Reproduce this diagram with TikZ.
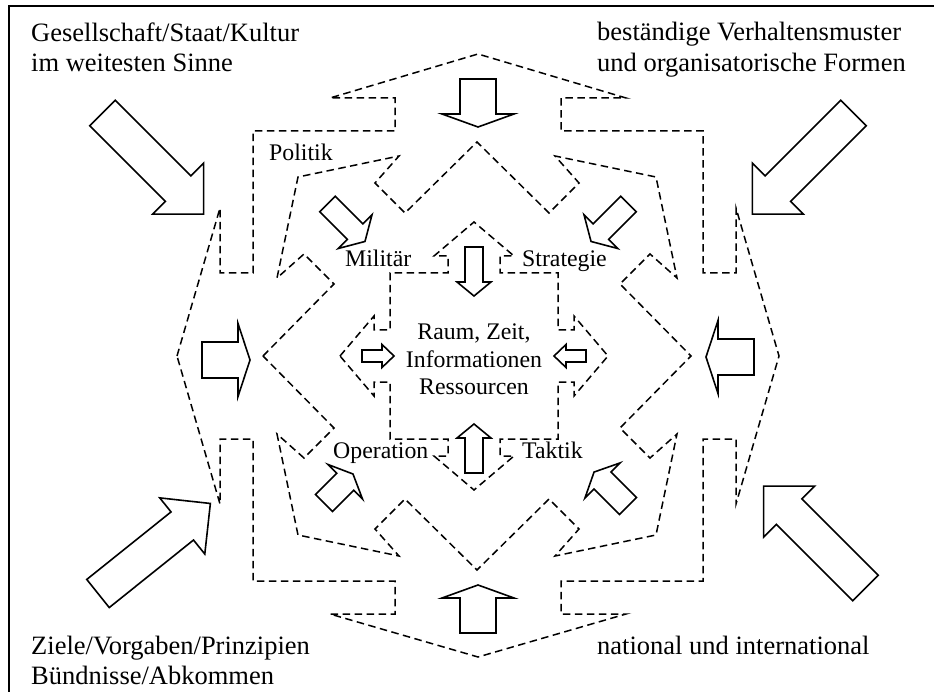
\documentclass[tikz,border=0pt]{standalone}
\usepackage{fontspec}
\setmainfont{Liberation Serif}
% block arrow: tail x, tail y, angle, stem length, stem half width, head length, head half width
\newcommand\blkarrow[7]{%
  \draw[blockarrow,shift={(#1,#2)},rotate=#3]
    (0,-#5) -- (#4,-#5) -- (#4,-#7) -- ({#4+#6},0) -- (#4,#7) -- (#4,#5) -- (0,#5) -- cycle;}
\begin{document}
\begin{tikzpicture}[x=1pt,y=-1pt,
  dashline/.style={dash pattern=on 7.5pt off 4.5pt, line width=1.5pt, line join=miter},
  blockarrow/.style={draw, line width=1.6pt, fill=white, line join=miter},
  framestyle/.style={line width=2pt},
  cornertext/.style={anchor=base west, inner sep=0pt, font=\fontsize{26.5}{30}\selectfont},
  labeltext/.style={anchor=base west, inner sep=0pt, font=\fontsize{23.8}{27.5}\selectfont},
  centertext/.style={anchor=base, inner sep=0pt, font=\fontsize{23.8}{27.5}\selectfont},
]
\useasboundingbox (0,0) rectangle (934,692);
\fill[white] (0,0) rectangle (934,692);

% frame
\draw[framestyle] (9,692) -- (9,6) -- (934,6);

% outer star
\begin{scope}[shift={(478,356)}]
\draw[dashline] (-301,0) -- (-258,-148) -- (-258,-83) -- (-225,-83) -- (-225,-225)
  -- (-83,-225) -- (-83,-258) -- (-148,-258) -- (0,-302) -- (148,-258) -- (83,-258)
  -- (83,-225) -- (225,-225) -- (225,-83) -- (258,-83) -- (258,-148) -- (301,0)
  -- (258,148) -- (258,83) -- (225,83) -- (225,225) -- (83,225) -- (83,258)
  -- (148,258) -- (0,301) -- (-148,258) -- (-83,258) -- (-83,225) -- (-225,225)
  -- (-225,83) -- (-258,83) -- (-258,148) -- cycle;
\end{scope}

% middle star
\begin{scope}[shift={(477,356)}]
\draw[dashline] (-214,0) -- (-143,-72) -- (-173,-102) -- (-200,-78) -- (-179,-179)
  -- (-78,-200) -- (-102,-173) -- (-72,-143) -- (0,-214) -- (72,-143) -- (102,-173)
  -- (78,-200) -- (179,-179) -- (200,-78) -- (173,-102) -- (143,-72) -- (214,0)
  -- (143,72) -- (173,102) -- (200,78) -- (179,179) -- (78,200) -- (102,173)
  -- (72,143) -- (0,214) -- (-72,143) -- (-102,173) -- (-78,200) -- (-179,179)
  -- (-200,78) -- (-173,102) -- (-143,72) -- cycle;
\end{scope}

% inner star
\begin{scope}[shift={(474,356)}]
\draw[dashline] (-134,0) -- (-100,-40) -- (-100,-26) -- (-84,-26) -- (-84,-83)
  -- (-26,-83) -- (-26,-100) -- (-40,-100) -- (0,-134) -- (40,-100) -- (26,-100)
  -- (26,-83) -- (84,-83) -- (84,-26) -- (100,-26) -- (100,-40) -- (134,0)
  -- (100,40) -- (100,26) -- (84,26) -- (84,83) -- (26,83) -- (26,100)
  -- (40,100) -- (0,134) -- (-40,100) -- (-26,100) -- (-26,83) -- (-84,83)
  -- (-84,26) -- (-100,26) -- (-100,40) -- cycle;
\end{scope}

% large arrows from the corners
\blkarrow{102.5}{113}{-45}{107}{18}{36}{36}
\blkarrow{853.5}{113}{-135}{107}{18}{36}{36}
\blkarrow{98}{593.5}{38.7}{108}{18}{36}{36}
\blkarrow{865.5}{588}{135}{108}{18}{36}{36}

% arrows of the outer ring
\blkarrow{478}{79}{-90}{35}{18}{13}{36}
\blkarrow{478}{633}{90}{35}{18}{13}{36}
\blkarrow{202}{360}{0}{36}{18}{12}{36.5}
\blkarrow{754}{357}{180}{36}{18}{12}{36.5}

% arrows of the middle ring
\blkarrow{327.5}{204}{-45}{39}{11}{14}{24}
\blkarrow{628.5}{204}{-135}{39}{11}{14}{24}
\blkarrow{324}{503}{45}{30}{12}{11}{24.5}
\blkarrow{628}{506}{135}{36}{12}{12}{25}

% arrows of the inner ring
\blkarrow{362}{356}{0}{20}{6}{12}{11.5}
\blkarrow{586}{356}{180}{20}{6}{12}{11.5}
\blkarrow{474}{247}{-90}{35}{9}{14}{17}
\blkarrow{474}{473}{90}{35}{9}{14}{17}

% corner texts
\node[cornertext] (gsk1) at (31,42) {Gesellschaft/Staat/Kultur};
\node[cornertext] (gsk2) at (31,72) {im weitesten Sinne};
\node[cornertext] (bvm1) at (597,41) {beständige Verhaltensmuster};
\node[cornertext] (bvm2) at (597,72) {und organisatorische Formen};
\node[cornertext] (zvp1) at (31,654) {Ziele/Vorgaben/Prinzipien};
\node[cornertext] (zvp2) at (31,684) {Bündnisse/Abkommen};
\node[cornertext] (nui) at (597,654) {national und international};

% level labels
\node[labeltext] (pol) at (269,161) {Politik};
\node[labeltext] (mil) at (345,267) {Militär};
\node[labeltext] (str) at (522,267) {Strategie};
\node[labeltext] (ope) at (333,458) {Operation};
\node[labeltext] (tak) at (522,458) {Taktik};

% centre
\node[centertext] (rz) at (474,340) {Raum, Zeit,};
\node[centertext] (inf) at (474,367) {Informationen};
\node[centertext] (res) at (474,395) {Ressourcen};
\end{tikzpicture}
\end{document}
